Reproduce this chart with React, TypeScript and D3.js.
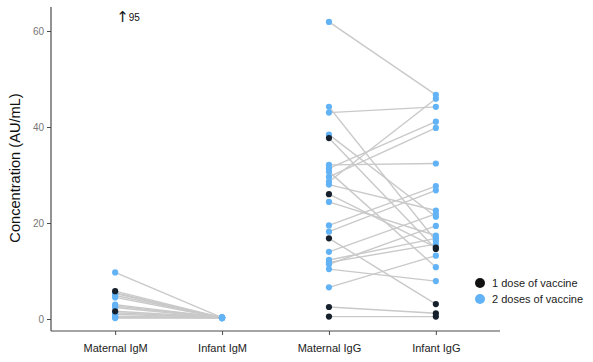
import React, { useEffect, useRef } from 'react'
import * as d3 from 'd3'

const categories = ['Maternal IgM', 'Infant IgM', 'Maternal IgG', 'Infant IgG']
const yTicks = [0, 20, 40, 60]

// one entry per mother/infant pair, dose: 1 or 2
const igmMaternal = [9.7, 5.8, 5.5, 5.3, 4.9, 4.5, 3.0, 2.7, 2.4, 1.6, 1.3, 1.0, 0.6, 0.4, 0.3, 0.2]
const igmInfant = [0.3, 0.3, 0.2, 0.3, 0.3, 0.2, 0.3, 0.3, 0.2, 0.3, 0.2, 0.3, 0.2, 0.3, 0.3, 0.2]
const igmDose = [2, 1, 2, 2, 2, 2, 2, 2, 2, 1, 2, 2, 2, 2, 2, 2]
const igmOffChart = '95'

const iggMaternal = [61.9, 44.2, 43.0, 38.4, 32.1, 31.4, 30.7, 29.6, 28.6, 28.0, 24.4, 19.5, 18.2, 14.0, 12.3, 11.8, 11.4, 10.4, 6.6, 37.7, 26.0, 16.8, 2.5, 0.5]
const iggInfant = [46.7, 16.3, 44.2, 21.3, 32.4, 41.1, 10.8, 39.8, 45.9, 22.6, 17.4, 27.7, 26.8, 21.9, 16.8, 15.6, 19.4, 7.9, 13.2, 14.6, 14.9, 3.1, 1.2, 0.5]
const iggDose = [2, 2, 2, 2, 2, 2, 2, 2, 2, 2, 2, 2, 2, 2, 2, 2, 2, 2, 2, 1, 1, 1, 1, 1]

const legendLabels = ['1 dose of vaccine', '2 doses of vaccine']
const DARK = '#16202d'
const LIGHT = '#62b3f6'

export default function App() {
  const ref = useRef<SVGSVGElement>(null)

  useEffect(() => {
    const svg = d3.select(ref.current)
    svg.selectAll('*').remove()
    const font = 'Arial, "Liberation Sans", sans-serif'

    const x = d3.scalePoint<string>().domain(categories).range([51, 500]).padding(0.6)
    const y = d3.scaleLinear().domain([-2.5, 65]).range([331, 7])

    const pairs: { a: string; b: string; v0: number; v1: number; dose: number }[] = []
    igmMaternal.forEach((v, i) =>
      pairs.push({ a: categories[0], b: categories[1], v0: v, v1: igmInfant[i], dose: igmDose[i] })
    )
    iggMaternal.forEach((v, i) =>
      pairs.push({ a: categories[2], b: categories[3], v0: v, v1: iggInfant[i], dose: iggDose[i] })
    )

    // connecting lines
    svg
      .append('g')
      .selectAll('line')
      .data(pairs)
      .join('line')
      .attr('x1', (d) => x(d.a)!)
      .attr('x2', (d) => x(d.b)!)
      .attr('y1', (d) => y(d.v0))
      .attr('y2', (d) => y(d.v1))
      .attr('stroke', '#c9c9c9')
      .attr('stroke-width', 1.4)

    // points; dark ones on top, except the infant IgM pile which shows light
    const pts: { c: string; v: number; dose: number }[] = []
    pairs.forEach((p) => {
      pts.push({ c: p.a, v: p.v0, dose: p.dose })
      pts.push({ c: p.b, v: p.v1, dose: p.dose })
    })
    const order = (d: { c: string; dose: number }) =>
      d.c === categories[1] ? d.dose : 3 - d.dose
    pts.sort((a, b) => order(a) - order(b))
    svg
      .append('g')
      .selectAll('circle')
      .data(pts)
      .join('circle')
      .attr('cx', (d) => x(d.c)!)
      .attr('cy', (d) => y(d.v))
      .attr('r', 3.1)
      .attr('fill', (d) => (d.dose === 1 ? DARK : LIGHT))

    // y axis
    const yAxis = svg
      .append('g')
      .attr('transform', 'translate(51,0)')
      .call(d3.axisLeft(y).tickValues(yTicks).tickSize(4).tickPadding(3))
    yAxis.select('.domain').attr('stroke', '#4a4a4a').attr('stroke-width', 1.2).attr('d', 'M0,7V331')
    yAxis.selectAll('.tick line').attr('stroke', '#4a4a4a')
    yAxis.selectAll('.tick text').attr('fill', '#777').attr('font-size', 10).attr('font-family', font)

    // x axis
    const xAxis = svg
      .append('g')
      .attr('transform', 'translate(0,331)')
      .call(d3.axisBottom(x).tickSize(4).tickPadding(9))
    xAxis.select('.domain').attr('stroke', '#4a4a4a').attr('stroke-width', 1.2).attr('d', 'M51,0H500')
    xAxis.selectAll('.tick line').attr('stroke', '#4a4a4a')
    xAxis.selectAll('.tick text').attr('fill', '#222').attr('font-size', 11).attr('font-family', font)

    // y title
    svg
      .append('text')
      .attr('transform', 'translate(20,168) rotate(-90)')
      .attr('text-anchor', 'middle')
      .attr('font-size', 14.6)
      .attr('font-family', font)
      .attr('fill', '#111')
      .text('Concentration (AU/mL)')

    // off-chart value marker
    const ann = svg
      .append('text')
      .attr('x', x(categories[0])! + 1)
      .attr('y', 22)
      .attr('font-family', '"DejaVu Sans", sans-serif')
      .attr('fill', '#111')
    ann.append('tspan').attr('font-size', 15).text('↑')
    ann.append('tspan').attr('font-size', 10).attr('dy', -1).attr('font-family', font).text(igmOffChart)

    // legend
    const lg = svg.append('g').attr('transform', 'translate(480,283)')
    legendLabels.forEach((t, i) => {
      lg.append('circle')
        .attr('cx', 0)
        .attr('cy', i * 16)
        .attr('r', 5)
        .attr('fill', i === 0 ? '#111' : LIGHT)
      lg.append('text')
        .attr('x', 12)
        .attr('y', i * 16)
        .attr('dy', '0.35em')
        .attr('font-size', 11)
        .attr('font-family', font)
        .attr('fill', '#222')
        .text(t)
    })
  }, [])

  return (
    <svg
      ref={ref}
      width={593}
      height={362}
      style={{ position: 'absolute', left: 0, top: 0, background: '#fff' }}
    />
  )
}
